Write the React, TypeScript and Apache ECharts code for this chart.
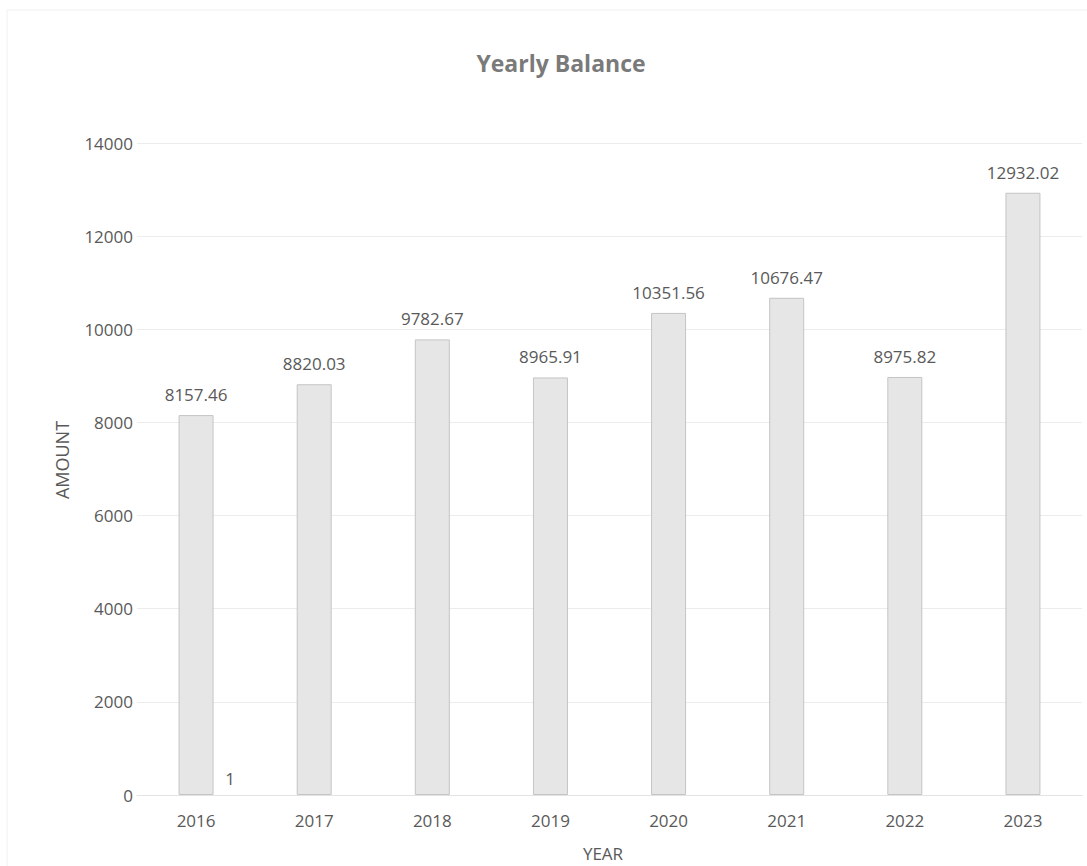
import React, { useEffect, useRef } from "react";
import * as echarts from "echarts";

const years = ["2016", "2017", "2018", "2019", "2020", "2021", "2022", "2023"];
const balances = [8157.46, 8820.03, 9782.67, 8965.91, 10351.56, 10676.47, 8975.82, 12932.02];
const secondSeries: (number | null)[] = [1, null, null, null, null, null, null, null];
const yTicks = { min: 0, max: 14000, interval: 2000 };

const FONT = "'Open Sans', sans-serif";
const TEXT = "#595959";

export default function App() {
  const ref = useRef<HTMLDivElement>(null);
  useEffect(() => {
    document.body.style.margin = "0";
    const chart = echarts.init(ref.current!, undefined, { renderer: "svg" });
    chart.setOption({
      animation: false,
      backgroundColor: "#ffffff",
      textStyle: { fontFamily: FONT },
      title: {
        text: "Yearly Balance",
        left: 556,
        top: 46,
        textAlign: "center",
        textStyle: { fontFamily: FONT, fontSize: 23, fontWeight: "bold", color: "#7a7a7a" },
      },
      graphic: [
        {
          type: "rect",
          shape: { x: 7, y: 10, width: 1100, height: 900 },
          style: { fill: "none", stroke: "#f0f0f0", lineWidth: 1 },
          silent: true,
        },
        {
          type: "text",
          x: 62,
          y: 460,
          rotation: Math.PI / 2,
          style: {
            text: "AMOUNT",
            fontFamily: FONT,
            fontSize: 18,
            fill: TEXT,
            align: "center",
            verticalAlign: "middle",
          },
        },
        {
          type: "text",
          x: 603,
          y: 853,
          style: {
            text: "YEAR",
            fontFamily: FONT,
            fontSize: 17,
            fill: TEXT,
            align: "center",
            verticalAlign: "middle",
          },
        },
      ],
      grid: { left: 137, top: 143, width: 945, bottom: 71, containLabel: false, outerBoundsMode: "none" },
      xAxis: {
        type: "category",
        data: years,
        axisLine: { show: true, lineStyle: { color: "#e3e3e3" } },
        axisTick: { show: false },
        axisLabel: { fontFamily: FONT, fontSize: 17, color: TEXT, margin: 17 },
      },
      yAxis: {
        type: "value",
        min: yTicks.min,
        max: yTicks.max,
        interval: yTicks.interval,
        axisLine: { show: false },
        axisTick: { show: false },
        splitLine: { lineStyle: { color: "#ececec", width: 1 } },
        axisLabel: {
          fontFamily: FONT,
          fontSize: 17,
          color: TEXT,
          margin: 4,
          formatter: (v: number) => String(v),
        },
      },
      series: [
        {
          type: "bar",
          data: balances,
          barWidth: 35,
          barGap: "-100%",
          itemStyle: { color: "#e6e6e6", borderColor: "#c4c4c4", borderWidth: 1 },
          label: {
            show: true,
            position: "top",
            distance: 12,
            fontFamily: FONT,
            fontSize: 17,
            color: TEXT,
          },
        },
        {
          type: "bar",
          data: secondSeries,
          barWidth: 35,
          itemStyle: { color: "#e6e6e6", borderWidth: 0 },
          label: {
            show: true,
            position: "top",
            distance: 8,
            offset: [34, 0],
            fontFamily: FONT,
            fontSize: 17,
            color: TEXT,
          },
        },
      ],
    });
    return () => chart.dispose();
  }, []);
  return <div ref={ref} style={{ width: 1087, height: 866 }} />;
}
